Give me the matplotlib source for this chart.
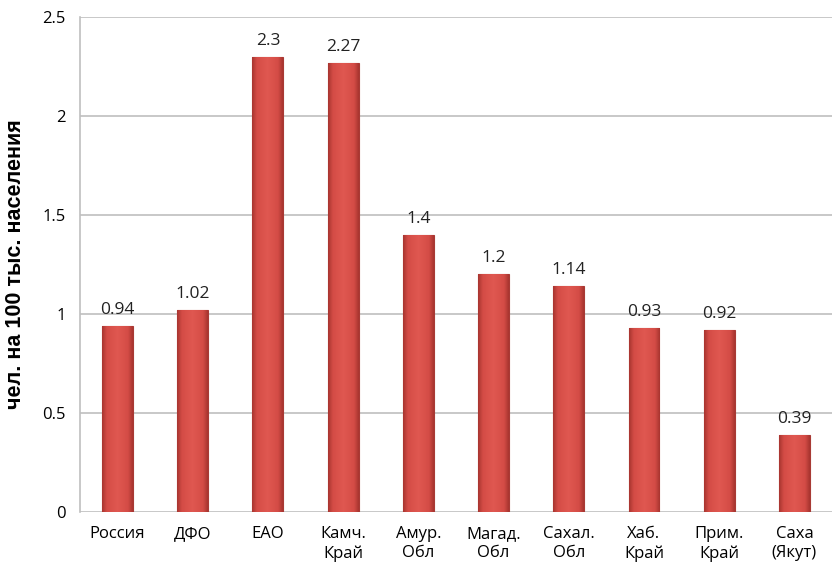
import numpy as np
import matplotlib.pyplot as plt
from matplotlib.colors import LinearSegmentedColormap

regions = ['Россия', 'ДФО', 'ЕАО', 'Камч.\nКрай', 'Амур.\nОбл', 'Магад.\nОбл',
           'Сахал.\nОбл', 'Хаб.\nКрай', 'Прим.\nКрай', 'Саха\n(Якут)']
values = [0.94, 1.02, 2.3, 2.27, 1.4, 1.2, 1.14, 0.93, 0.92, 0.39]
value_labels = ['0.94', '1.02', '2.3', '2.27', '1.4', '1.2', '1.14', '0.93', '0.92', '0.39']

plt.rcParams['font.family'] = ['Open Sans', 'DejaVu Sans']

fig = plt.figure(figsize=(8.32, 5.67), dpi=100, facecolor='white')
ax = fig.add_axes([0.096, 0.097, 0.904, 0.873])

x = np.arange(len(values))
width = 0.41
bars = ax.bar(x, values, width=width, color='#d9534e', edgecolor='#a83a35',
              linewidth=0.8, zorder=3)

# shading across each bar: darker at the edges, flat red in the middle
cmap = LinearSegmentedColormap.from_list(
    'bar', [(0, '#a83530'), (0.15, '#d44c46'), (0.5, '#e05851'), (0.85, '#d44c46'), (1, '#a83530')])
grad = np.linspace(0, 1, 64).reshape(1, -1)
for b in bars:
    x0, w, h = b.get_x(), b.get_width(), b.get_height()
    im = ax.imshow(grad, cmap=cmap, aspect='auto', extent=[x0, x0 + w, 0, h],
                   zorder=3.5, interpolation='bicubic')
    im.set_clip_path(b)

for xi, v, lab in zip(x, values, value_labels):
    ax.text(xi, v + 0.04, lab, ha='center', va='bottom', fontsize=12.5, color='#222222', zorder=5)

ax.set_xlim(-0.5, len(values) - 0.5)
ax.set_ylim(0, 2.5)
ax.set_yticks([0, 0.5, 1, 1.5, 2, 2.5])
ax.set_yticklabels(['0', '0.5', '1', '1.5', '2', '2.5'])
ax.set_xticks(x)
ax.set_xticklabels(regions, fontsize=12, linespacing=1.25)
ax.tick_params(axis='y', labelsize=12, length=0, pad=10)
ax.tick_params(axis='x', length=0, pad=10)
ax.set_ylabel('чел. на 100 тыс. населения', fontsize=15.5, fontweight='bold',
              family=['Liberation Sans', 'DejaVu Sans'], labelpad=12)

ax.grid(True, axis='y', color='#bfbfbf', linewidth=1.2, zorder=0)
for s in ['top', 'right', 'bottom']:
    ax.spines[s].set_visible(False)
ax.spines['left'].set_color('#bfbfbf')
ax.spines['left'].set_linewidth(1.2)

fig.savefig('out.png', dpi=100, facecolor='white')
